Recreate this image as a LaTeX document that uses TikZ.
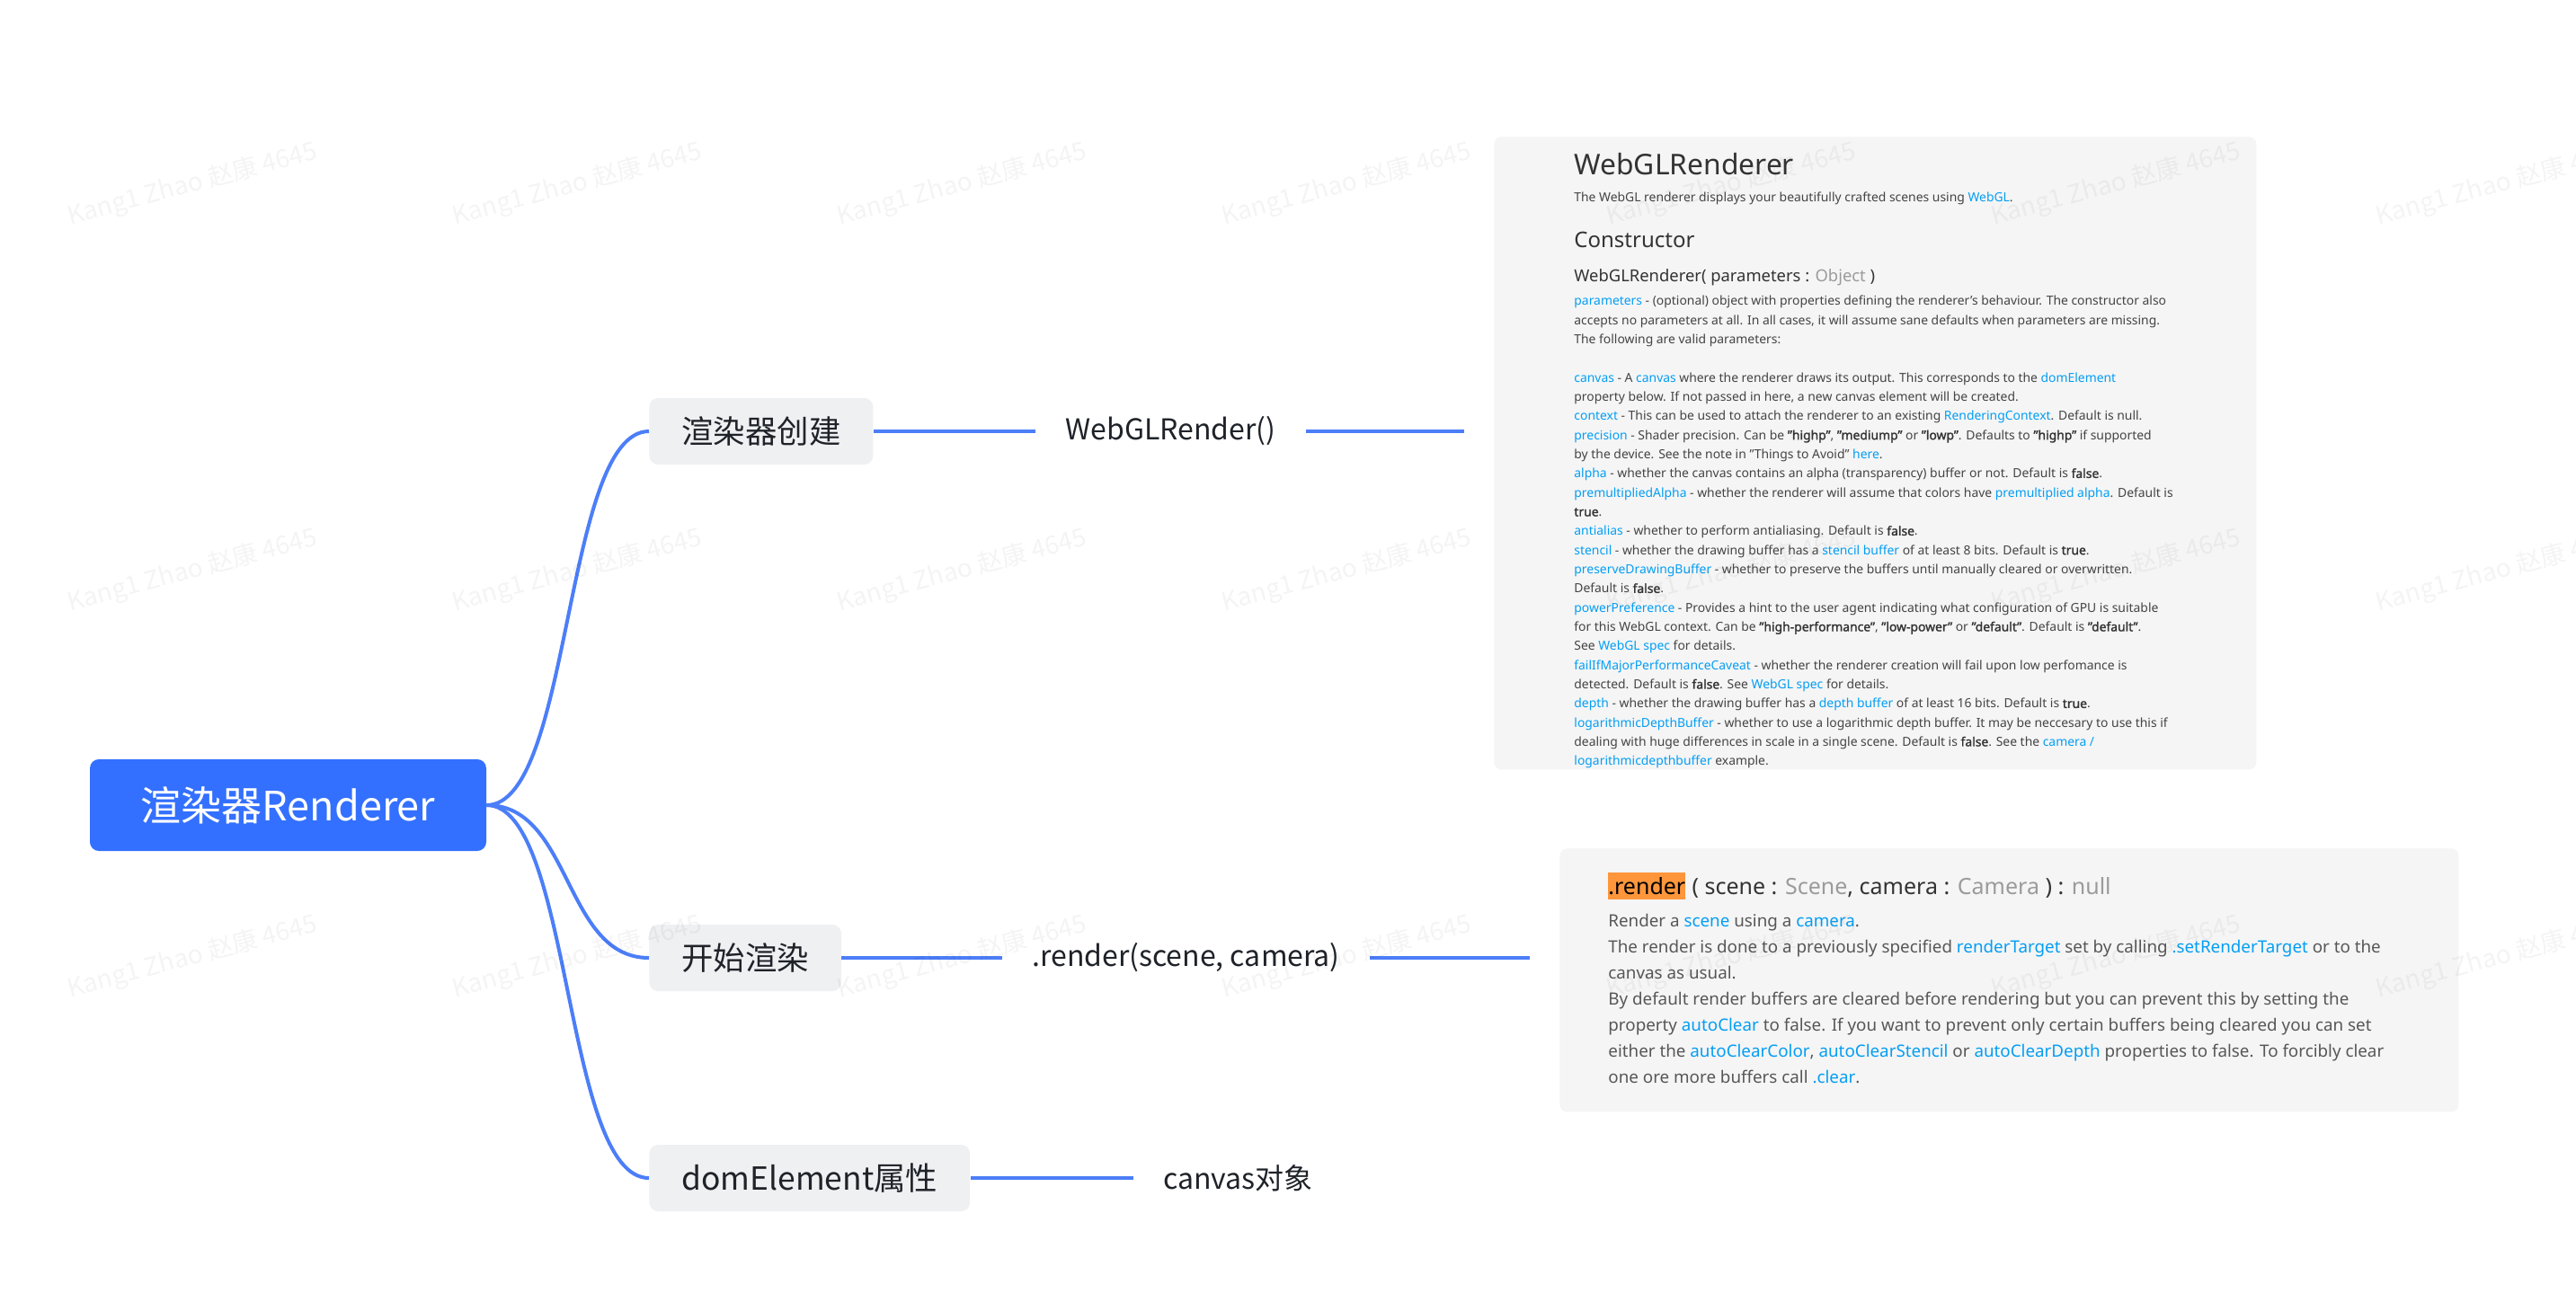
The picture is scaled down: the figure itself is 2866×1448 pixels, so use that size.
\documentclass[tikz,border=0pt]{standalone}
\usepackage{fontspec}
\setmainfont{Noto Sans}[AutoFakeBold=1.5]
\newfontfamily\cjk{Noto Sans CJK SC}
\usetikzlibrary{backgrounds}
\definecolor{rootblue}{RGB}{51,112,255}
\definecolor{edgeblue}{RGB}{76,126,248}
\definecolor{nodegray}{RGB}{239,240,242}
\definecolor{panelgray}{RGB}{245,245,245}
\definecolor{linkblue}{RGB}{4,158,244}
\definecolor{txtgray}{RGB}{68,68,68}
\definecolor{typegray}{RGB}{155,155,155}
\definecolor{hlorange}{RGB}{255,150,60}
\definecolor{inkdark}{RGB}{31,35,41}
\definecolor{headdark}{RGB}{51,51,51}
\newcommand\lk[1]{\textcolor{linkblue}{#1}}
\newcommand\tg[1]{\textcolor{typegray}{#1}}
\newcommand\bd[1]{\textbf{\textcolor{headdark}{#1}}}
\begin{document}
\begin{tikzpicture}[x=0.5pt,y=-0.5pt,
  rootnode/.style={fill=rootblue, rounded corners=5pt, minimum width=220.5pt, minimum height=51pt,
    text=white, font=\cjk\fontsize{22.5}{26}\selectfont, inner sep=0pt},
  mmnode/.style={fill=nodegray, rounded corners=5pt, minimum height=37pt, inner xsep=18pt,
    text=inkdark, font=\cjk\fontsize{17.7}{20}\selectfont, anchor=west},
  lbl/.style={inner xsep=16.5pt, text=inkdark, font=\cjk\fontsize{16}{19}\selectfont, anchor=west},
  edge/.style={draw=edgeblue, line width=2pt},
  panel/.style={fill=panelgray, rounded corners=4pt, anchor=north west, inner sep=0pt},
  pbody/.style={anchor=mid west, inner sep=0pt, text=txtgray, font=\fontsize{6.95}{8}\selectfont},
  rbody/.style={anchor=mid west, inner sep=0pt, text=txtgray!90!white, font=\fontsize{9.4}{11}\selectfont},
  wm/.style={rotate=15, text=black, opacity=0.045, font=\cjk\fontsize{14}{16}\selectfont, inner sep=0pt}
]
\fill[white] (0,0) rectangle (2866,1448);
\useasboundingbox (0,0) rectangle (2866,1448);

% root and glow
\node[rootnode] (root) at (320.5,896) {渲染器Renderer};
\begin{scope}[on background layer]
  \foreach \r in {3,6,...,30} {
    \fill[rootblue, opacity=0.018, rounded corners=8pt]
      ([shift={(-\r,-\r+10)}]root.north west) rectangle ([shift={(\r,\r+10)}]root.south east);
  }
\end{scope}

% first level nodes
\node[mmnode] (n1) at (722,480) {渲染器创建};
\node[mmnode] (n2) at (722,1066) {开始渲染};
\node[mmnode] (n3) at (722,1311) {domElement属性};

% labels
\node[lbl] (l1) at (1152,480) {WebGLRender()};
\node[lbl] (l2) at (1115,1066) {.render(scene, camera)};
\node[lbl] (l3) at (1261,1311) {canvas对象};

% panels
\node[panel, minimum width=424pt, minimum height=352pt] (p1) at (1662,152) {};
\node[panel, minimum width=500pt, minimum height=146.5pt] (p2) at (1735,944) {};

% connectors
\draw[edge] (root.east) .. controls +(95,0) and +(-95,0) .. (n1.west);
\draw[edge] (root.east) .. controls +(95,0) and +(-95,0) .. (n2.west);
\draw[edge] (root.east) .. controls +(95,0) and +(-95,0) .. (n3.west);
\draw[edge] (n1.east) -- (l1.west);
\draw[edge] (n2.east) -- (l2.west);
\draw[edge] (n3.east) -- (l3.west);
\draw[edge, shorten >=16.5pt] (l1.east) -- (l1.east -| p1.west);
\draw[edge, shorten >=16.5pt] (l2.east) -- (l2.east -| p2.west);

% panel 1 text
\node[anchor=mid west, inner sep=0pt, text=headdark, font=\fontsize{15.9}{18}\selectfont] (p1t) at (1751,189) {WebGLRenderer};
\node[pbody] (p1s) at (1751,219) {The WebGL renderer displays your beautifully crafted scenes using \lk{WebGL}.};
\node[anchor=mid west, inner sep=0pt, text=headdark, font=\fontsize{12}{14}\selectfont] (p1c) at (1751,270) {Constructor};
\node[anchor=mid west, inner sep=0pt, text=headdark, font=\fontsize{9.2}{11}\selectfont] (p1k) at (1751,308) {WebGLRenderer( parameters : \tg{Object} )};

\node[pbody] (a01) at (1751,334.5) {\lk{parameters} - (optional) object with properties defining the renderer's behaviour. The constructor also};
\node[pbody] (a02) at (1751,355.8) {accepts no parameters at all. In all cases, it will assume sane defaults when parameters are missing.};
\node[pbody] (a03) at (1751,377.2) {The following are valid parameters:};
\node[pbody] (a05) at (1751,419.8) {\lk{canvas} - A \lk{canvas} where the renderer draws its output. This corresponds to the \lk{domElement}};
\node[pbody] (a06) at (1751,441.2) {property below. If not passed in here, a new canvas element will be created.};
\node[pbody] (a07) at (1751,462.5) {\lk{context} - This can be used to attach the renderer to an existing \lk{RenderingContext}. Default is null.};
\node[pbody] (a08) at (1751,483.8) {\lk{precision} - Shader precision. Can be \bd{"highp"}, \bd{"mediump"} or \bd{"lowp"}. Defaults to \bd{"highp"} if supported};
\node[pbody] (a09) at (1751,505.1) {by the device. See the note in "Things to Avoid" \lk{here}.};
\node[pbody] (a10) at (1751,526.5) {\lk{alpha} - whether the canvas contains an alpha (transparency) buffer or not. Default is \bd{false}.};
\node[pbody] (a11) at (1751,547.8) {\lk{premultipliedAlpha} - whether the renderer will assume that colors have \lk{premultiplied alpha}. Default is};
\node[pbody] (a12) at (1751,569.1) {\bd{true}.};
\node[pbody] (a13) at (1751,590.5) {\lk{antialias} - whether to perform antialiasing. Default is \bd{false}.};
\node[pbody] (a14) at (1751,611.8) {\lk{stencil} - whether the drawing buffer has a \lk{stencil buffer} of at least 8 bits. Default is \bd{true}.};
\node[pbody] (a15) at (1751,633.1) {\lk{preserveDrawingBuffer} - whether to preserve the buffers until manually cleared or overwritten.};
\node[pbody] (a16) at (1751,654.5) {Default is \bd{false}.};
\node[pbody] (a17) at (1751,675.8) {\lk{powerPreference} - Provides a hint to the user agent indicating what configuration of GPU is suitable};
\node[pbody] (a18) at (1751,697.1) {for this WebGL context. Can be \bd{"high-performance"}, \bd{"low-power"} or \bd{"default"}. Default is \bd{"default"}.};
\node[pbody] (a19) at (1751,718.5) {See \lk{WebGL spec} for details.};
\node[pbody] (a20) at (1751,739.8) {\lk{failIfMajorPerformanceCaveat} - whether the renderer creation will fail upon low perfomance is};
\node[pbody] (a21) at (1751,761.1) {detected. Default is \bd{false}. See \lk{WebGL spec} for details.};
\node[pbody] (a22) at (1751,782.5) {\lk{depth} - whether the drawing buffer has a \lk{depth buffer} of at least 16 bits. Default is \bd{true}.};
\node[pbody] (a23) at (1751,803.8) {\lk{logarithmicDepthBuffer} - whether to use a logarithmic depth buffer. It may be neccesary to use this if};
\node[pbody] (a24) at (1751,825.1) {dealing with huge differences in scale in a single scene. Default is \bd{false}. See the \lk{camera /}};
\node[pbody] (a25) at (1751,846.5) {\lk{logarithmicdepthbuffer} example.};

% panel 2 text
\node[fill=hlorange, inner xsep=0pt, inner ysep=0pt, minimum height=15pt, anchor=west, text=black,
  font=\fontsize{12.5}{14}\selectfont] (r0) at (1789,986) {.render};
\node[anchor=base west, inner sep=0pt, text=headdark, font=\fontsize{12.5}{14}\selectfont] (r0b) at (r0.base east)
  {\ ( scene : \tg{Scene}, camera : \tg{Camera} ) : \tg{null}};
\node[rbody] (b1) at (1789,1026) {Render a \lk{scene} using a \lk{camera}.};
\node[rbody] (b2) at (1789,1055) {The render is done to a previously specified \lk{renderTarget} set by calling \lk{.setRenderTarget} or to the};
\node[rbody] (b3) at (1789,1084) {canvas as usual.};
\node[rbody] (b4) at (1789,1112.7) {By default render buffers are cleared before rendering but you can prevent this by setting the};
\node[rbody] (b5) at (1789,1141.7) {property \lk{autoClear} to false. If you want to prevent only certain buffers being cleared you can set};
\node[rbody] (b6) at (1789,1170.7) {either the \lk{autoClearColor}, \lk{autoClearStencil} or \lk{autoClearDepth} properties to false. To forcibly clear};
\node[rbody] (b7) at (1789,1199.7) {one ore more buffers call \lk{.clear}.};

% watermarks
\foreach \wx in {214,642,1070,1498,1926,2354,2782} {
  \foreach \wy in {205,635,1065} {
    \node[wm] (wm-\wx-\wy) at (\wx,\wy) {Kang1 Zhao 赵康 4645};
  }
}
\end{tikzpicture}
\end{document}
